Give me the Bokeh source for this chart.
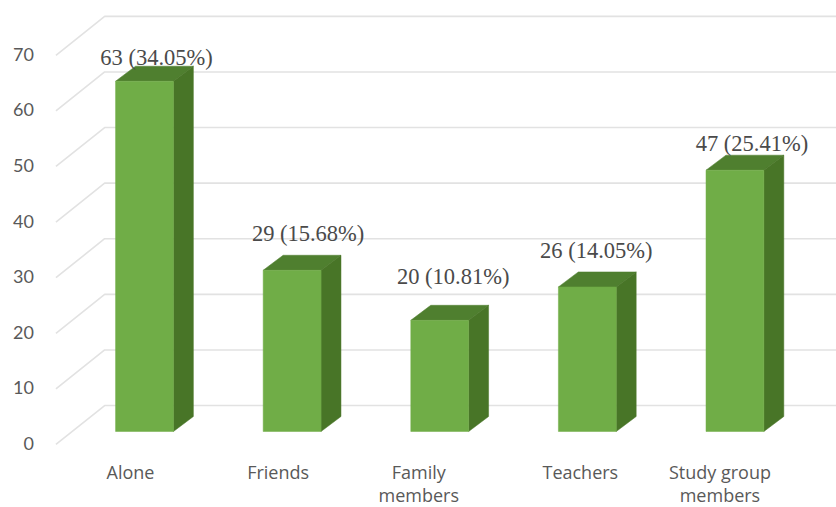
from bokeh.plotting import figure
from bokeh.embed import file_html
from bokeh.resources import INLINE
from bokeh.core.properties import value
from bokeh.models import Range1d

categories = ["Alone", "Friends", "Family\nmembers", "Teachers", "Study group\nmembers"]
counts = [63, 29, 20, 26, 47]
percents = ["34.05", "15.68", "10.81", "14.05", "25.41"]
y_ticks = [0, 10, 20, 30, 40, 50, 60, 70]

# geometry in data units (x: category index, y: chart value)
HALF = 0.196
DX, DY = 0.135, 2.7            # bar depth
WALL_X, WALL_Y = -0.27, 4.67   # back wall relative to bar plane
FLOOR_X, FLOOR_Y = -0.6, -2.33 # near edge of the floor
RIGHT = 4.7

# label nudges in px
label_dx = [12, 16, 13.5, 9, 17]
label_dy = [-9, -22, -29, -21, -12]
cat_dx = [-14, -14, -21, -7, -15]

p = figure(width=836, height=507, output_backend="svg", toolbar_location=None,
           x_range=Range1d(-0.9756, 4.688), y_range=Range1d(-13.67, 77.52),
           min_border=0, outline_line_color=None, background_fill_color="white")
p.axis.visible = False
p.grid.visible = False

# grid lines
for t in y_ticks:
    p.line([FLOOR_X, WALL_X, RIGHT], [t + FLOOR_Y, t + WALL_Y, t + WALL_Y],
           line_color="#E2E2E2", line_width=1.6)

# tick labels
p.text([-0.6] * len(y_ticks), [t + FLOOR_Y for t in y_ticks], text=[str(t) for t in y_ticks],
       text_font=value("Lato"), text_font_size="18px", text_color="#595959",
       text_align="right", text_baseline="middle", x_offset=-22, y_offset=-1)

# bars
xs = list(range(len(counts)))
p.patches([[x - HALF, x + HALF, x + HALF + DX, x - HALF + DX] for x in xs],
          [[c, c, c + DY, c + DY] for c in counts],
          fill_color="#4F7F2F", line_color="#4F7F2F", line_width=0.5)
p.patches([[x + HALF, x + HALF + DX, x + HALF + DX, x + HALF] for x in xs],
          [[0, DY, c + DY, c] for c in counts],
          fill_color="#487527", line_color="#487527", line_width=0.5)
p.patches([[x - HALF, x + HALF, x + HALF, x - HALF] for x in xs],
          [[0, 0, c, c] for c in counts],
          fill_color="#70AD47", line_color="#70AD47", line_width=0.5)

# value labels
for x, c, pct, dx, dy in zip(xs, counts, percents, label_dx, label_dy):
    p.text([x], [c + DY], text=[f"{c} ({pct}%)"], x_offset=dx, y_offset=dy,
           text_font=value("Liberation Serif"), text_font_size="22.5px", text_color="#4A4A4A",
           text_align="center", text_baseline="middle")

# category labels
for x, name, dx in zip(xs, categories, cat_dx):
    p.text([x], [-5.1], text=[name], x_offset=dx,
           text_font=value("Open Sans"), text_font_size="18px", text_color="#595959",
           text_align="center", text_baseline="top", text_line_height=0.95)

open("out.html", "w").write(file_html(p, INLINE))
